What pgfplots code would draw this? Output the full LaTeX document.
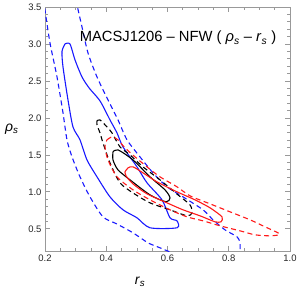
\documentclass[border=0pt]{standalone}
\usepackage{fontspec}
\setmainfont{Liberation Sans}
\usepackage{pgfplots}
\pgfplotsset{compat=1.18}
\definecolor{fr}{gray}{0.6}
\definecolor{cblue}{rgb}{0.1,0.1,1}
\definecolor{cred}{rgb}{1,0.1,0.1}
\begin{document}
\begin{tikzpicture}
\useasboundingbox (0,0) rectangle (300bp,291bp);
\begin{axis}[
  at={(45bp,40bp)}, anchor=south west,
  scale only axis, width=245bp, height=244bp,
  xmin=0.2, xmax=1.0, ymin=0.2, ymax=3.5,
  xtick={0.2,0.4,0.6,0.8,1.0},
  ytick={0.5,1.0,1.5,2.0,2.5,3.0,3.5},
  minor x tick num=3, minor y tick num=4,
  tick align=inside,
  major tick length=4.5bp, minor tick length=2.5bp,
  axis line style={fr, line width=0.9bp},
  tick style={fr, line width=0.7bp},
  /pgf/number format/assume math mode=true,
  /pgf/number format/.cd, fixed, fixed zerofill, precision=1, /pgfplots/.cd,
  every tick label/.append style={font=\fontsize{9.5}{11}\selectfont, text=black!85},
  xlabel={\textit{r}\textsubscript{\textit{s}}},
  ylabel={\textit{ρ}\textsubscript{\textit{s}}},
  xlabel style={at={(axis description cs:0.388,-0.127)}, anchor=center, font=\fontsize{14}{16}\selectfont},
  ylabel style={at={(axis description cs:-0.135,0.5)}, rotate=-90, anchor=center, font=\fontsize{14}{16}\selectfont},
  title={MACSJ1206 – NFW ( \textit{ρ}\textsubscript{\textit{s}} – \textit{r}\textsubscript{\textit{s}} )},
  title style={at={(axis description cs:0.543,0.848)}, anchor=center, font=\fontsize{14.8}{17}\selectfont},
  every axis plot/.append style={line width=1.1bp, smooth, tension=0.45},
]
% blue dashed (upper branch)
\addplot[cblue, dash pattern=on 5bp off 3.5bp] coordinates {
(0.3012,3.595)(0.3045,3.527)(0.3208,3.230)(0.3404,2.878)(0.3698,2.554)(0.4057,2.243)
(0.4384,1.973)(0.4678,1.703)(0.5102,1.473)(0.5527,1.257)(0.5984,1.068)(0.6506,0.932)
(0.7159,0.757)(0.7486,0.622)(0.7878,0.486)(0.8269,0.392)(0.8367,0.311)(0.8367,0.15)};
% blue dashed (lower branch)
\addplot[cblue, dash pattern=on 5bp off 3.5bp] coordinates {
(0.1967,3.595)(0.2000,3.459)(0.2163,3.014)(0.2392,2.554)(0.2588,2.068)(0.2718,1.703)
(0.2882,1.473)(0.3143,1.203)(0.3469,0.932)(0.3894,0.662)(0.4351,0.565)(0.4873,0.446)
(0.5363,0.311)(0.5755,0.243)(0.6147,0.176)};
% blue solid
\addplot[cblue] coordinates {
(0.2653,3.000)(0.2816,3.000)(0.2980,2.784)(0.3208,2.554)(0.3450,2.400)(0.3796,2.230)
(0.4122,1.973)(0.4351,1.797)(0.4547,1.608)(0.5004,1.338)(0.5331,1.122)(0.5820,0.892)
(0.6082,0.649)(0.6310,0.608)(0.6310,0.514)(0.5429,0.514)(0.5004,0.649)(0.4547,0.757)
(0.4122,0.932)(0.3698,1.203)(0.3371,1.432)(0.3143,1.703)(0.2914,1.878)(0.2751,2.243)
(0.2588,2.689)(0.2555,2.900)(0.2653,3.000)};
% black dashed
\addplot[black, dash pattern=on 5bp off 3.5bp] coordinates {
(0.3698,1.959)(0.3796,1.973)(0.4024,1.878)(0.4188,1.797)(0.4449,1.608)(0.4776,1.500)
(0.5200,1.338)(0.5755,1.162)(0.6343,0.959)(0.6735,0.824)(0.6800,0.716)(0.6637,0.676)
(0.6082,0.757)(0.5429,0.851)(0.4873,0.986)(0.4449,1.122)(0.4122,1.392)(0.3894,1.662)
(0.3796,1.797)(0.3698,1.905)(0.3698,1.959)};
% black solid
\addplot[black] coordinates {
(0.4220,1.541)(0.4384,1.568)(0.4873,1.432)(0.5429,1.203)(0.5918,1.027)(0.6082,0.919)
(0.5951,0.865)(0.5429,0.959)(0.4776,1.162)(0.4384,1.297)(0.4220,1.432)(0.4220,1.541)};
% red dashed
\addplot[cred, dash pattern=on 5bp off 3.5bp] coordinates {
(0.4024,1.703)(0.4188,1.743)(0.4384,1.703)(0.4612,1.595)(0.4939,1.473)(0.5331,1.338)
(0.5755,1.203)(0.6310,1.068)(0.6735,0.946)(0.7388,0.838)(0.8041,0.730)(0.8694,0.622)
(0.9184,0.527)(0.9608,0.446)(0.9641,0.419)(0.9347,0.405)(0.8857,0.419)(0.8367,0.473)
(0.7714,0.541)(0.7159,0.608)(0.6637,0.662)(0.6082,0.757)(0.5429,0.892)(0.4873,1.027)
(0.4351,1.203)(0.4057,1.432)(0.3959,1.608)(0.4024,1.703)};
% red solid
\addplot[cred] coordinates {
(0.4612,1.270)(0.4710,1.324)(0.4873,1.338)(0.5200,1.257)(0.5657,1.135)(0.6310,1.000)
(0.6898,0.892)(0.7388,0.784)(0.7780,0.662)(0.7747,0.595)(0.7551,0.595)(0.7061,0.676)
(0.6506,0.757)(0.5984,0.851)(0.5331,0.973)(0.4873,1.108)(0.4645,1.216)(0.4612,1.270)};
\end{axis}
\end{tikzpicture}
\end{document}
